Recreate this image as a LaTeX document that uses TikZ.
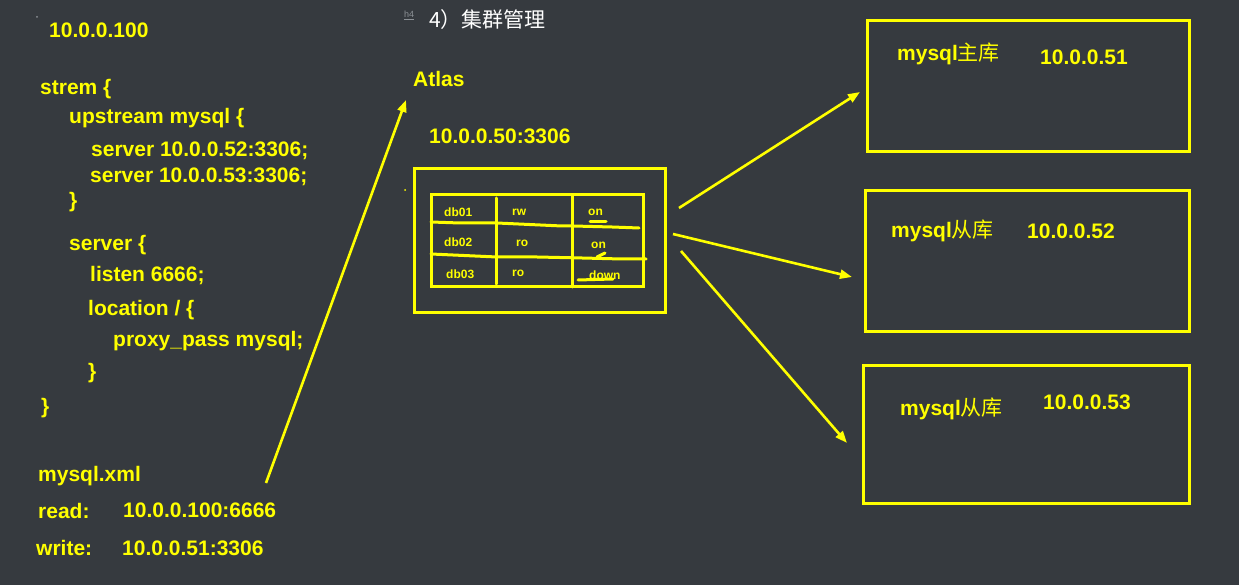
\documentclass[tikz,border=0pt]{standalone}
\usepackage{fontspec}
\setmainfont{Liberation Sans}
\newfontfamily\cjk{Noto Sans CJK SC}
\usetikzlibrary{arrows.meta}
\definecolor{bg}{RGB}{54,58,63}
\definecolor{yl}{RGB}{255,255,0}
\definecolor{grayc}{RGB}{140,145,150}
\begin{document}
\begin{tikzpicture}[x=1pt,y=-1pt,
  txt/.style={anchor=mid west,inner sep=0pt,yshift=-5pt,text=yl,font=\fontsize{21}{21}\selectfont\bfseries},
  cell/.style={anchor=mid west,inner sep=0pt,yshift=-3pt,text=yl,font=\fontsize{12}{12}\selectfont\bfseries},
  box/.style={draw=yl,line width=3pt,inner sep=0pt},
  arr/.style={draw=yl,line width=2.6pt,-{Triangle[length=12pt,width=9pt]}},
  hand/.style={draw=yl,line width=3pt,line cap=round,line join=round}]
\fill[bg] (0,0) rectangle (1239,585);
\useasboundingbox (0,0) rectangle (1239,585);

% tiny marks
\fill[grayc] (37,17) circle (1pt);
\fill[yl] (405,190) circle (1pt);
\node (h4) [anchor=mid west,inner sep=0pt,text=grayc,font=\fontsize{9}{9}\selectfont] at (404,15) {h4};
\draw[grayc,line width=0.6pt] ([yshift=-1pt]h4.south west) -- ([yshift=-1pt]h4.south east);

% title
\node (title) [anchor=mid west,inner sep=0pt,yshift=-5pt,text=white,font=\cjk\fontsize{21}{21}\selectfont] at (429,20) {4）集群管理};

% left code
\node (ip) [txt] at (49,30) {10.0.0.100};
\node (l1) [txt] at (40,87) {strem \{};
\node (l2) [txt] at (69,116) {upstream mysql \{};
\node (l3) [txt] at (91,149) {server 10.0.0.52:3306;};
\node (l4) [txt] at (90,175) {server 10.0.0.53:3306;};
\node (l5) [txt] at (69,200) {\}};
\node (l6) [txt] at (69,243) {server \{};
\node (l7) [txt] at (90,274) {listen 6666;};
\node (l8) [txt] at (88,308) {location / \{};
\node (l9) [txt] at (113,339) {proxy\_pass mysql;};
\node (l10) [txt] at (88,371) {\}};
\node (l11) [txt] at (41,406) {\}};
\node (x1) [txt] at (38,474) {mysql.xml};
\node (x2) [txt] at (38,511) {read:};
\node (x3) [txt] at (123,510) {10.0.0.100:6666};
\node (x4) [txt] at (36,548) {write:};
\node (x5) [txt] at (122,548) {10.0.0.51:3306};

% Atlas
\node (atlas) [txt] at (413,79) {Atlas};
\node (atip) [txt] at (429,136) {10.0.0.50:3306};
\node (outer) [box,minimum width=251pt,minimum height=143pt] at (539.5,240.5) {};
\node (tab) [box,minimum width=212pt,minimum height=92pt] at (537,241) {};
\draw[hand] (496,198) -- (496,284);
\draw[hand] (572,195) -- (572,287);
\draw[hand] (431,222) -- (460,223) -- (497,223) -- (562,226) -- (573,226) -- (612,227) -- (639,228);
\draw[hand] (431,254) -- (453,255) -- (497,257) -- (537,257) -- (582,258) -- (622,259) -- (646,259);
\draw[hand] (590,222) -- (606,222);
\draw[hand] (597,257) -- (605,253);
\draw[hand] (578,280) -- (595,279.5) -- (613,279);
\node (c11) [cell] at (444,211) {db01};
\node (c12) [cell] at (512,210) {rw};
\node (c13) [cell] at (588,210) {on};
\node (c21) [cell] at (444,241) {db02};
\node (c22) [cell] at (516,241) {ro};
\node (c23) [cell] at (591,243) {on};
\node (c31) [cell] at (446,273) {db03};
\node (c32) [cell] at (512,271) {ro};
\node (c33) [cell] at (589,274) {down};

% right boxes
\node (m1) [box,minimum width=322pt,minimum height=131pt] at (1028,86.5) {};
\node (m2) [box,minimum width=324pt,minimum height=140pt] at (1027,261) {};
\node (m3) [box,minimum width=326pt,minimum height=138pt] at (1026,434) {};
\node (m1a) [txt] at (897,53) {mysql{\cjk\mdseries 主库}};
\node (m1b) [txt] at (1040,57) {10.0.0.51};
\node (m2a) [txt] at (891,230) {mysql{\cjk\mdseries 从库}};
\node (m2b) [txt] at (1027,231) {10.0.0.52};
\node (m3a) [txt] at (900,408) {mysql{\cjk\mdseries 从库}};
\node (m3b) [txt] at (1043,402) {10.0.0.53};

% arrows
\coordinate (a0) at (266,483); \coordinate (a1) at (406,100);
\coordinate (b0) at (679,208); \coordinate (b1) at (860,92);
\coordinate (c0) at (673,234); \coordinate (c1) at (852,277);
\coordinate (d0) at (681,251); \coordinate (d1) at (847,443);
\draw[arr] (a0) -- (a1);
\draw[arr] (b0) -- (b1);
\draw[arr] (c0) -- (c1);
\draw[arr] (d0) -- (d1);
\end{tikzpicture}
\end{document}
